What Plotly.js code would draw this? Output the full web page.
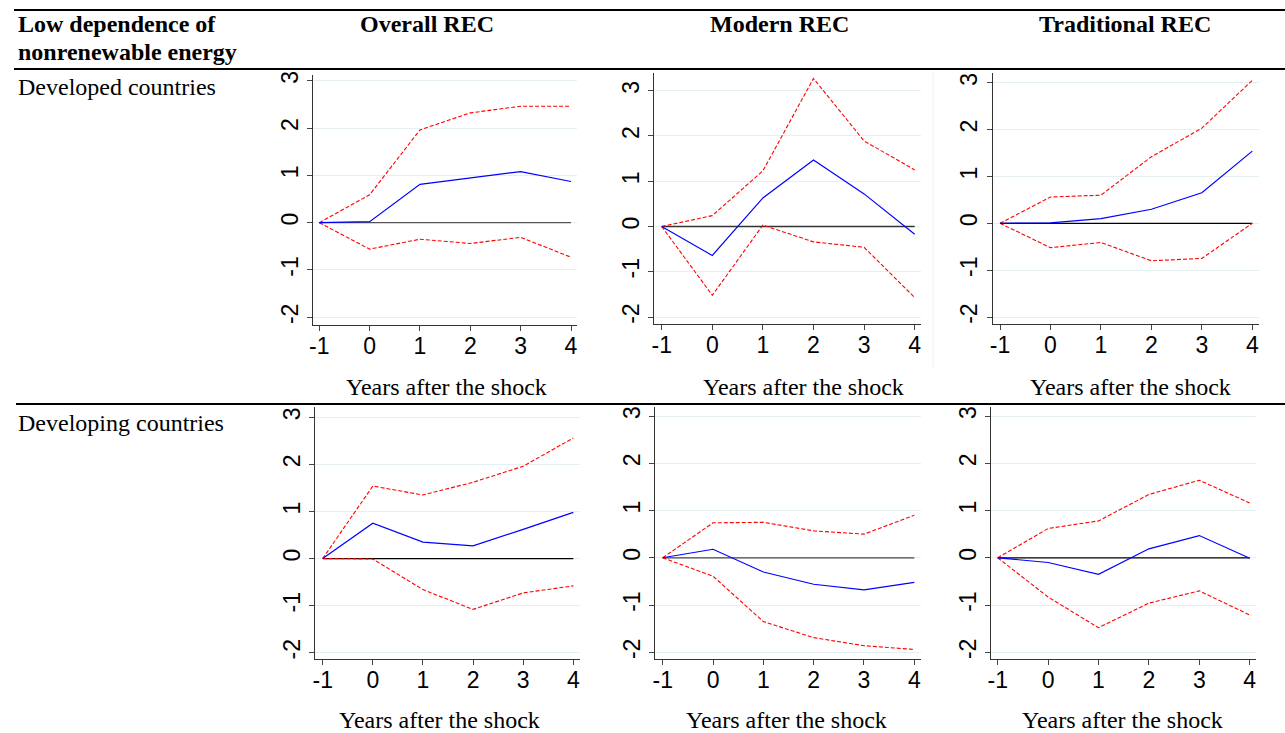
<!DOCTYPE html>
<html>
<head>
<meta charset="utf-8">
<script src="https://cdn.plot.ly/plotly-3.0.1.min.js"></script>
<style>html,body{margin:0;padding:0;background:#fff}#chart{width:1285px;height:733px}</style>
</head>
<body>
<div id="chart"></div>
<script>
// ---------- DATA ----------
const years = [-1, 0, 1, 2, 3, 4];
const xTickLabels = ["-1", "0", "1", "2", "3", "4"];
const yTicks = [-2, -1, 0, 1, 2, 3];
const columnTitles = ["Overall REC", "Modern REC", "Traditional REC"];
const rowTitles = ["Developed countries", "Developing countries"];
const cornerTitleLines = ["Low dependence of", "nonrenewable energy"];
const axisTitle = "Years after the shock";

// Developed countries
const devOverallUpper = [0, 0.59, 1.96, 2.32, 2.46, 2.46];
const devOverallIrf   = [0, 0.02, 0.81, 0.95, 1.08, 0.87];
const devOverallLower = [0, -0.56, -0.35, -0.44, -0.31, -0.73];

const devModernUpper = [0, 0.24, 1.23, 3.27, 1.89, 1.25];
const devModernIrf   = [0, -0.64, 0.63, 1.47, 0.72, -0.17];
const devModernLower = [0, -1.52, 0.03, -0.34, -0.46, -1.57];

const devTradUpper = [0, 0.56, 0.60, 1.42, 2.03, 3.05];
const devTradIrf   = [0, 0.01, 0.10, 0.30, 0.65, 1.54];
const devTradLower = [0, -0.52, -0.41, -0.80, -0.75, 0.00];

// Developing countries
const dvgOverallUpper = [0, 1.54, 1.35, 1.62, 1.96, 2.56];
const dvgOverallIrf   = [0, 0.75, 0.35, 0.27, 0.62, 0.98];
const dvgOverallLower = [0, -0.01, -0.66, -1.08, -0.73, -0.58];

const dvgModernUpper = [0, 0.74, 0.75, 0.57, 0.50, 0.90];
const dvgModernIrf   = [0, 0.18, -0.30, -0.56, -0.68, -0.52];
const dvgModernLower = [0, -0.39, -1.35, -1.69, -1.86, -1.94];

const dvgTradUpper = [0, 0.62, 0.78, 1.34, 1.64, 1.16];
const dvgTradIrf   = [0, -0.10, -0.35, 0.19, 0.47, -0.01];
const dvgTradLower = [0, -0.83, -1.48, -0.96, -0.70, -1.21];

const zeroLine = [0, 0, 0, 0, 0, 0];

const panels = [
  {upper: devOverallUpper, irf: devOverallIrf, lower: devOverallLower, zc: "#555"},
  {upper: devModernUpper,  irf: devModernIrf,  lower: devModernLower,  zc: "#333"},
  {upper: devTradUpper,    irf: devTradIrf,    lower: devTradLower,    zc: "#000"},
  {upper: dvgOverallUpper, irf: dvgOverallIrf, lower: dvgOverallLower, zc: "#000"},
  {upper: dvgModernUpper,  irf: dvgModernIrf,  lower: dvgModernLower,  zc: "#444"},
  {upper: dvgTradUpper,    irf: dvgTradIrf,    lower: dvgTradLower,    zc: "#000"}
];

// ---------- LAYOUT GEOMETRY (pixels) ----------
const W = 1285, H = 733;
const geo = [
  {xm1: 319.3, x4: 571.0, y3: 80.7, ym2: 317.3, left: 313.0, right: 577, top: 75, bottom: 325},
  {xm1: 661.7, x4: 914.7, y3: 90.7, ym2: 317.0, left: 654.0, right: 921, top: 73, bottom: 324},
  {xm1: 1000.0, x4: 1252.3, y3: 82.7, ym2: 317.0, left: 992.7, right: 1259, top: 73, bottom: 324},
  {xm1: 322.7, x4: 573.3, y3: 417.3, ym2: 652.7, left: 315.0, right: 580, top: 407, bottom: 659},
  {xm1: 662.7, x4: 914.3, y3: 416.0, ym2: 652.3, left: 655.0, right: 921, top: 407, bottom: 659},
  {xm1: 997.7, x4: 1249.7, y3: 416.0, ym2: 652.3, left: 991.0, right: 1256, top: 407, bottom: 659}
];
const px = v => v / W;
const py = v => 1 - v / H;
const SERIF = "Liberation Serif, Times New Roman, serif";
const SANS = "Liberation Sans, Arial, sans-serif";

const traces = [];
const layout = {
  width: W, height: H,
  margin: {l: 0, r: 0, t: 0, b: 0},
  paper_bgcolor: "#fff", plot_bgcolor: "#fff",
  showlegend: false,
  font: {family: SANS, color: "#000"},
  annotations: [], shapes: []
};

panels.forEach((p, i) => {
  const g = geo[i];
  const n = i === 0 ? "" : String(i + 1);
  const xa = "x" + n, ya = "y" + n;
  const ux = (g.x4 - g.xm1) / 5;
  const uy = (g.ym2 - g.y3) / 5;
  layout["xaxis" + n] = {
    domain: [px(g.left), px(g.right)],
    range: [-1 - (g.xm1 - g.left) / ux, 4 + (g.right - g.x4) / ux],
    anchor: ya,
    tickmode: "array", tickvals: years, ticktext: xTickLabels,
    ticks: "outside", ticklen: 5, tickwidth: 1, tickcolor: "#444",
    ticklabelstandoff: -5,
    showgrid: false, zeroline: false,
    showline: true, linecolor: "#333", linewidth: 1.2,
    tickfont: {family: SANS, size: 23, color: "#000"},
    fixedrange: true
  };
  layout["yaxis" + n] = {
    domain: [py(g.bottom), py(g.top)],
    range: [-2 - (g.bottom - g.ym2) / uy, 3 + (g.y3 - g.top) / uy],
    anchor: xa,
    tickmode: "array", tickvals: yTicks, ticktext: yTicks.map(String),
    tickangle: -90,
    ticks: "outside", ticklen: 5, tickwidth: 1, tickcolor: "#444",
    showgrid: true, gridcolor: "#e6eff1", gridwidth: 1,
    zeroline: false,
    showline: true, linecolor: "#333", linewidth: 1.2,
    tickfont: {family: SANS, size: 23, color: "#000"},
    fixedrange: true
  };
  traces.push({x: years, y: zeroLine, xaxis: xa, yaxis: ya, mode: "lines",
    line: {color: p.zc, width: 1.3}, hoverinfo: "skip"});
  traces.push({x: years, y: p.upper, xaxis: xa, yaxis: ya, mode: "lines",
    line: {color: "#ff0000", width: 1.1, dash: "4px,2px"}, hoverinfo: "skip"});
  traces.push({x: years, y: p.lower, xaxis: xa, yaxis: ya, mode: "lines",
    line: {color: "#ff0000", width: 1.1, dash: "4px,2px"}, hoverinfo: "skip"});
  traces.push({x: years, y: p.irf, xaxis: xa, yaxis: ya, mode: "lines",
    line: {color: "#0000ff", width: 1.2}, hoverinfo: "skip"});

  const row = i < 3 ? 0 : 1;
  const titleY = row === 0 ? 387 : 720;
  const titleX = [446, 803, 1130, 439, 786, 1122][i];
  layout.annotations.push({
    xref: "paper", yref: "paper", x: px(titleX), y: py(titleY),
    xanchor: "center", yanchor: "middle", showarrow: false,
    text: axisTitle,
    font: {family: SERIF, size: 24, color: "#000"}
  });
});

// header texts
[24, 52].forEach((ly, j) => {
  layout.annotations.push({
    xref: "paper", yref: "paper", x: px(16), y: py(ly),
    xanchor: "left", yanchor: "middle", align: "left", showarrow: false,
    text: "<b>" + cornerTitleLines[j] + "</b>",
    font: {family: SERIF, size: 24, color: "#000"}
  });
});
[427, 780, 1125].forEach((cx, j) => {
  layout.annotations.push({
    xref: "paper", yref: "paper", x: px(cx), y: py(24),
    xanchor: "center", yanchor: "middle", showarrow: false,
    text: "<b>" + columnTitles[j] + "</b>",
    font: {family: SERIF, size: 24, color: "#000"}
  });
});
[87, 423].forEach((ry, j) => {
  layout.annotations.push({
    xref: "paper", yref: "paper", x: px(16), y: py(ry),
    xanchor: "left", yanchor: "middle", showarrow: false,
    text: rowTitles[j],
    font: {family: SERIF, size: 24, color: "#000"}
  });
});

// table rules
layout.shapes.push(
  {type: "line", xref: "paper", yref: "paper", x0: px(14), x1: 1, y0: py(10), y1: py(10), line: {color: "#000", width: 2}},
  {type: "line", xref: "paper", yref: "paper", x0: px(14), x1: 1, y0: py(69), y1: py(69), line: {color: "#000", width: 2}},
  {type: "line", xref: "paper", yref: "paper", x0: px(16), x1: 1, y0: py(404), y1: py(404), line: {color: "#000", width: 2}},
  {type: "line", xref: "paper", yref: "paper", x0: px(933), x1: px(933), y0: py(72), y1: py(367), line: {color: "#f0f0f0", width: 1}}
);

Plotly.newPlot("chart", traces, layout, {displayModeBar: false, staticPlot: true});
</script>
</body>
</html>
